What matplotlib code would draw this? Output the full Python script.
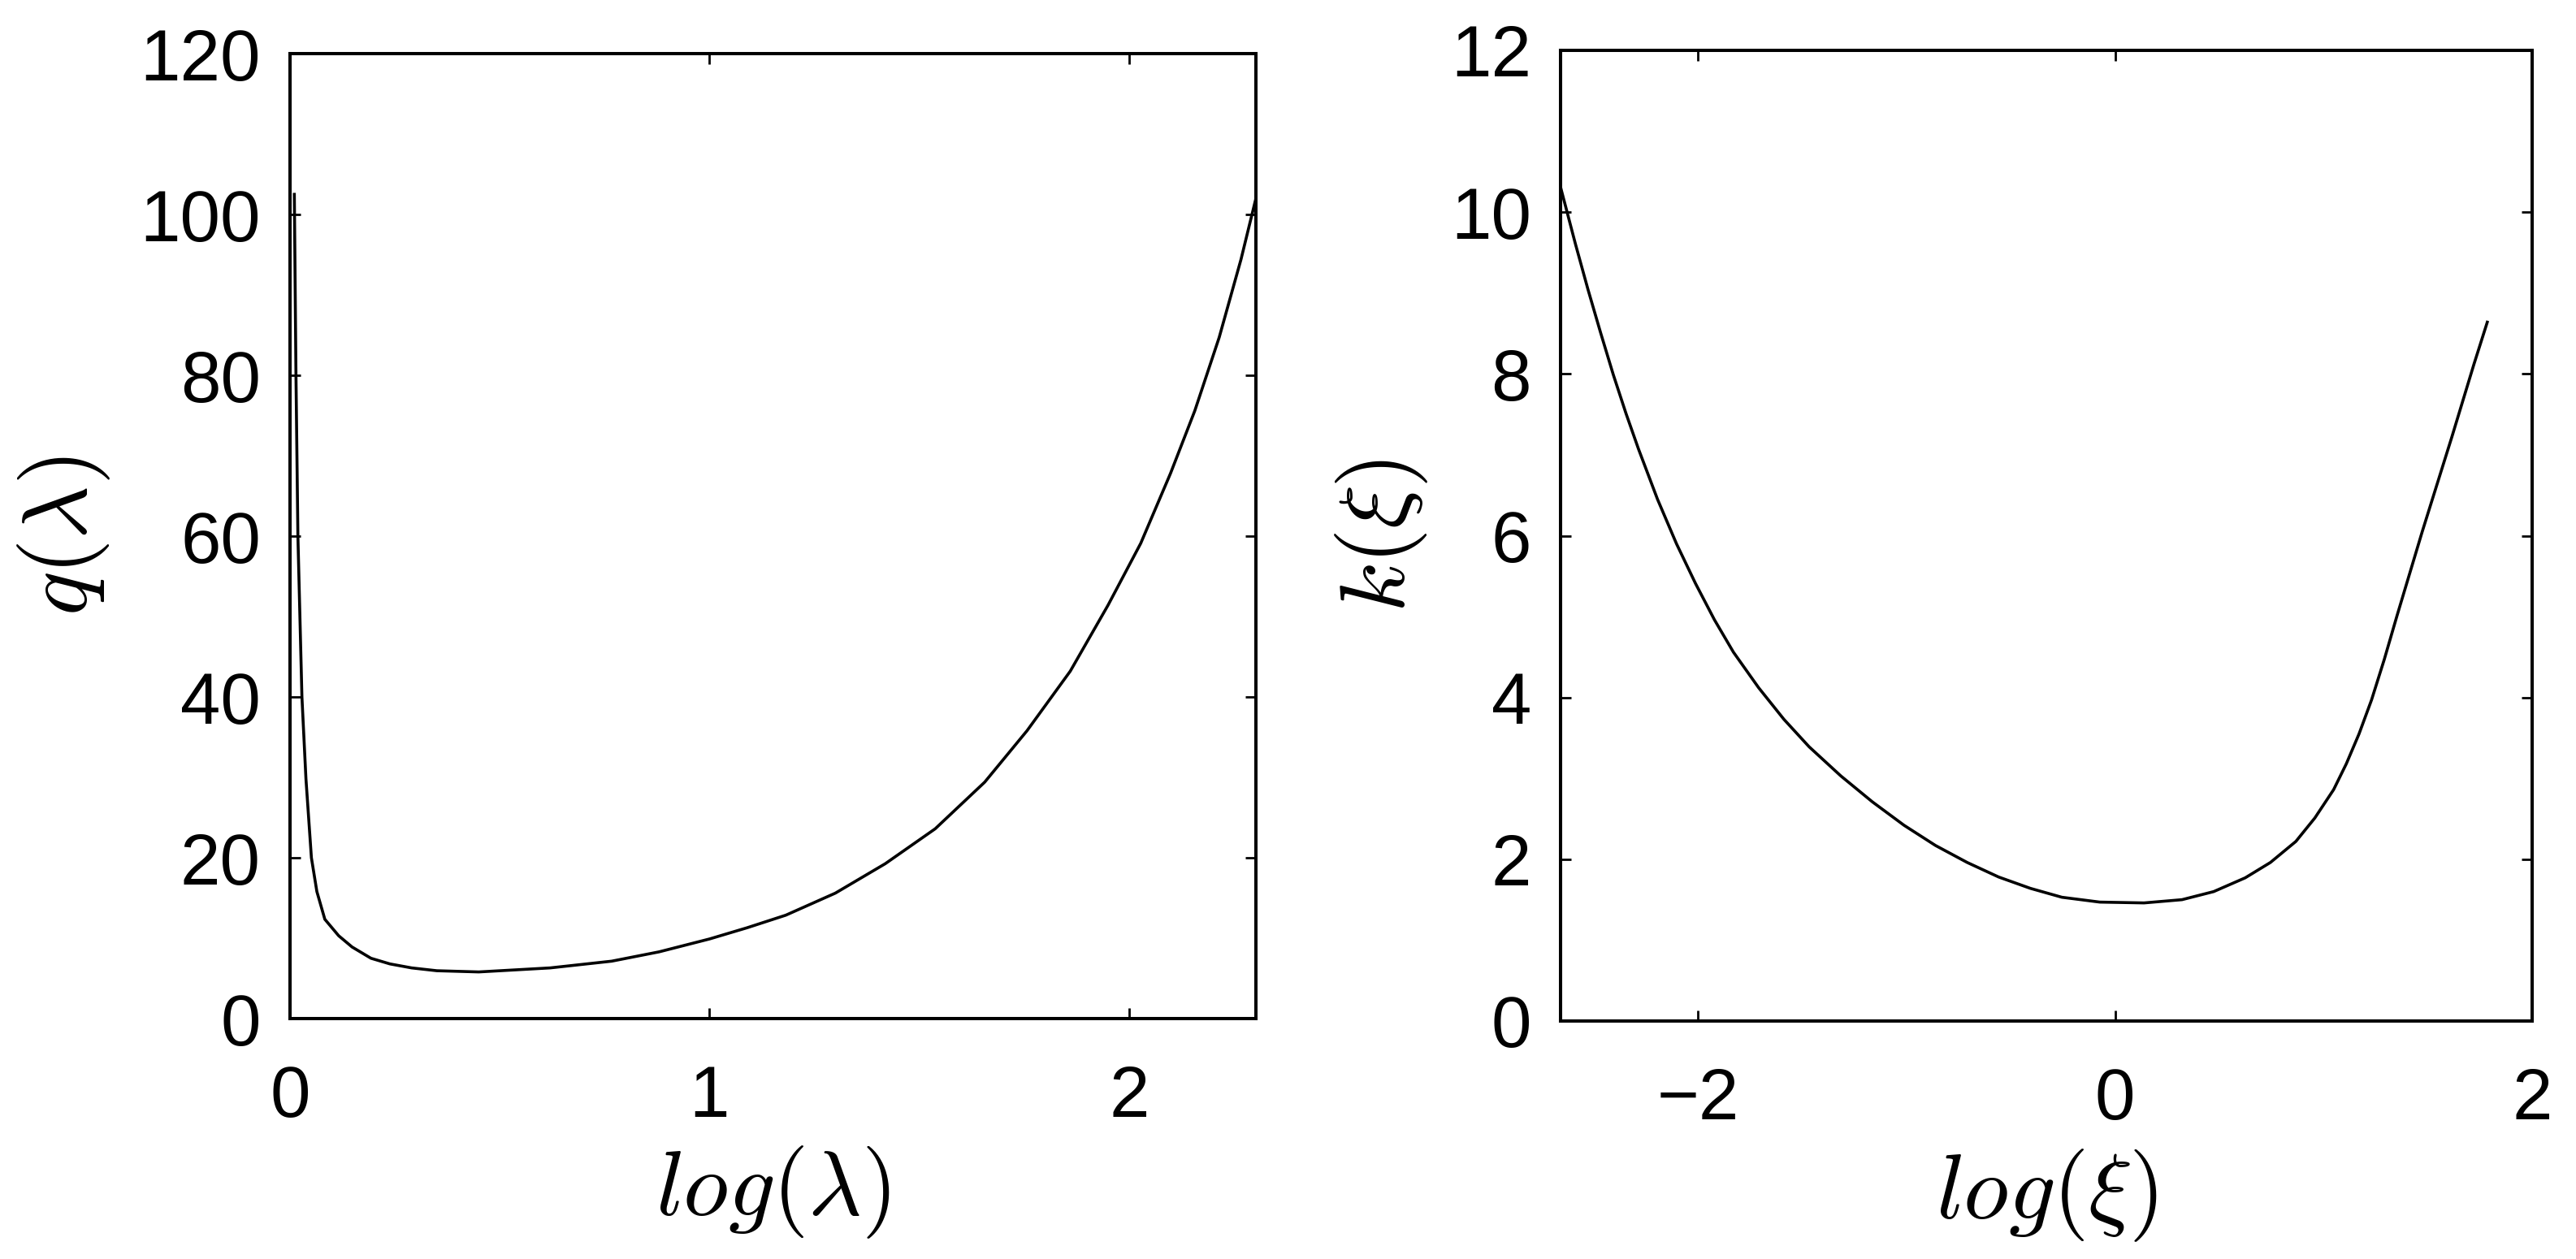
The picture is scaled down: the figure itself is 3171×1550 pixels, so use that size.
import numpy as np
import matplotlib
matplotlib.use("Agg")
import matplotlib.pyplot as plt

plt.rcParams['font.family'] = ['Liberation Sans', 'DejaVu Sans']
plt.rcParams['mathtext.fontset'] = 'cm'

# left panel: q(lambda) against log(lambda)
log_lam = [0.0103, 0.0142, 0.0188, 0.0284, 0.038, 0.051, 0.064, 0.083, 0.116, 0.148,
           0.193, 0.238, 0.290, 0.35, 0.45, 0.62, 0.767, 0.88, 1.0, 1.09, 1.182, 1.30,
           1.419, 1.538, 1.656, 1.757, 1.860, 1.950, 2.028, 2.099, 2.157, 2.215,
           2.267, 2.3026]
q_lam = [102.5, 80, 60, 40, 29.8, 20, 15.8, 12.35, 10.3, 8.9,
         7.5, 6.8, 6.3, 5.95, 5.8, 6.3, 7.14, 8.3, 9.9, 11.3, 12.86, 15.6,
         19.26, 23.6, 29.4, 35.8, 43.2, 51.4, 59.1, 67.8, 75.6, 84.7,
         94.4, 102]

# right panel: k(xi) against log(xi)
log_xi = [-2.658, -2.588, -2.527, -2.467, -2.406, -2.345, -2.285, -2.194, -2.103, -2.012,
          -1.921, -1.830, -1.709, -1.588, -1.467, -1.315, -1.164, -1.012, -0.861, -0.709,
          -0.558, -0.406, -0.255, -0.073, 0.139, 0.321, 0.473, 0.624, 0.745, 0.867,
          0.958, 1.048, 1.109, 1.170, 1.230, 1.291, 1.352, 1.473, 1.615, 1.721, 1.785]
k_xi = [10.30, 9.61, 9.04, 8.51, 7.99, 7.51, 7.07, 6.45, 5.90, 5.41,
        4.96, 4.56, 4.12, 3.73, 3.39, 3.03, 2.71, 2.42, 2.17, 1.96,
        1.78, 1.64, 1.53, 1.47, 1.46, 1.50, 1.60, 1.77, 1.96, 2.22,
        2.51, 2.86, 3.18, 3.55, 3.97, 4.47, 5.01, 6.05, 7.22, 8.12, 8.64]

W, H = 3171, 1550
fig = plt.figure(figsize=(W/100, H/100), dpi=100)

def px_axes(x0, y0, x1, y1):
    return fig.add_axes([x0/W, 1 - y1/H, (x1-x0)/W, (y1-y0)/H])

ax1 = px_axes(357, 66, 1546, 1254)
ax2 = px_axes(1921, 62, 3117, 1257)

def style(ax):
    for s in ax.spines.values():
        s.set_linewidth(2.9)
    ax.tick_params(direction='in', length=9.5, width=2.0, top=True, right=True,
                   labelsize=64)
    ax.tick_params(axis='x', pad=40)
    ax.tick_params(axis='y', pad=26)

ax1.plot(log_lam, q_lam, color='black', lw=2.6)
ax1.set_xlim(0, np.log(10))
ax1.set_ylim(0, 120)
ax1.set_xticks([0, 1, 2])
ax1.set_yticks(range(0, 121, 20))
style(ax1)
ax1.set_xlabel(r'$log(\lambda)$', fontsize=82)
ax1.set_ylabel(r'$q(\lambda)$', fontsize=82)
ax1.xaxis.set_label_coords(0.5, -0.13)
ax1.yaxis.set_label_coords(-0.184, 0.5)

ax2.plot(log_xi, k_xi, color='black', lw=2.6)
ax2.set_xlim(-2.659, 2)
ax2.set_ylim(0, 12)
ax2.set_xticks([-2, 0, 2])
ax2.set_yticks(range(0, 13, 2))
style(ax2)
ax2.set_xlabel(r'$log(\xi)$', fontsize=82)
ax2.set_ylabel(r'$k(\xi)$', fontsize=82)
ax2.xaxis.set_label_coords(0.5, -0.13)
ax2.yaxis.set_label_coords(-0.135, 0.5)

fig.savefig('out.png', dpi=100)
